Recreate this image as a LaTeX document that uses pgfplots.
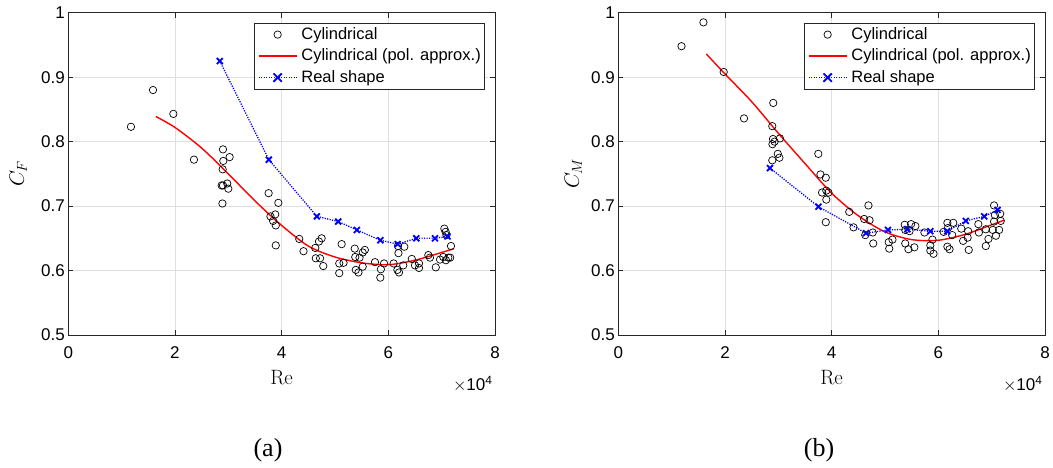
\documentclass[border=0pt]{standalone}
\usepackage[no-math]{fontspec}
\setmainfont{Liberation Sans}
\newfontfamily\timesfont{Liberation Serif}
\usepackage{pgfplots}
\pgfplotsset{compat=1.18}
\definecolor{gridc}{RGB}{223,223,223}
\definecolor{axc}{RGB}{38,38,38}

% Re values in units of 1e4
\pgfplotstableread{
re     cf
1.175  0.823
1.588  0.880
1.970  0.843
2.356  0.772
2.900  0.788
2.906  0.770
3.025  0.776
2.894  0.757
2.875  0.732
2.900  0.732
2.980  0.735
3.000  0.727
2.890  0.704
3.756  0.720
3.938  0.705
3.790  0.684
3.880  0.687
3.840  0.677
3.890  0.670
3.890  0.639
4.330  0.649
4.410  0.630
4.630  0.635
4.700  0.645
4.750  0.650
4.640  0.619
4.720  0.619
4.780  0.607
5.080  0.611
5.160  0.612
5.125  0.641
5.080  0.596
5.370  0.634
5.380  0.621
5.460  0.620
5.520  0.628
5.560  0.632
5.390  0.601
5.440  0.597
5.520  0.606
5.750  0.613
5.860  0.602
5.850  0.589
5.920  0.611
6.100  0.611
6.190  0.627
6.180  0.638
6.300  0.637
6.170  0.601
6.200  0.597
6.280  0.608
6.440  0.618
6.500  0.608
6.575  0.611
6.575  0.604
6.750  0.624
6.780  0.620
6.890  0.605
6.970  0.617
7.030  0.621
7.050  0.665
7.075  0.660
7.090  0.655
7.080  0.616
7.125  0.620
7.175  0.638
7.160  0.620
}\cfcyl

\pgfplotstableread{
re     cf
1.64   0.839
2.00   0.822
2.50   0.790
3.00   0.750
3.50   0.708
4.00   0.670
4.50   0.638
5.00   0.621
5.50   0.612
6.00   0.609
6.50   0.616
7.00   0.628
7.23   0.634
}\cfpoly

\pgfplotstableread{
re     cf
2.840  0.925
3.760  0.772
4.660  0.684
5.060  0.676
5.410  0.663
5.850  0.647
6.175  0.641
6.525  0.650
6.875  0.650
7.110  0.653
}\cfreal

\pgfplotstableread{
re     cm
1.185  0.948
1.596  0.985
1.976  0.908
2.357  0.836
2.905  0.860
2.887  0.824
2.900  0.804
2.890  0.796
3.030  0.805
2.930  0.800
2.990  0.781
3.020  0.775
2.887  0.771
3.750  0.781
3.790  0.749
3.890  0.744
3.820  0.721
3.900  0.724
3.940  0.721
3.900  0.710
3.890  0.675
4.330  0.691
4.410  0.667
4.610  0.680
4.690  0.701
4.710  0.678
4.630  0.655
4.770  0.659
4.780  0.642
5.070  0.644
5.140  0.648
5.080  0.634
5.370  0.671
5.380  0.663
5.490  0.672
5.570  0.669
5.460  0.661
5.380  0.642
5.440  0.633
5.550  0.636
5.740  0.659
5.850  0.639
5.850  0.631
5.910  0.626
5.890  0.648
6.100  0.660
6.170  0.674
6.280  0.674
6.180  0.666
6.170  0.637
6.210  0.633
6.260  0.655
6.430  0.665
6.465  0.646
6.550  0.651
6.560  0.661
6.570  0.632
6.750  0.672
6.760  0.659
6.890  0.664
6.940  0.649
6.890  0.638
7.045  0.701
7.060  0.686
7.045  0.676
7.020  0.663
7.080  0.654
7.140  0.663
7.160  0.688
7.170  0.677
}\cmcyl

\pgfplotstableread{
re     cm
1.65   0.936
2.00   0.905
2.50   0.862
3.00   0.813
3.50   0.766
4.00   0.720
4.50   0.685
5.00   0.660
5.50   0.648
6.00   0.647
6.50   0.656
7.00   0.671
7.23   0.678
}\cmpoly

\pgfplotstableread{
re     cm
2.843  0.759
3.753  0.699
4.645  0.658
5.056  0.663
5.420  0.664
5.850  0.661
6.166  0.661
6.515  0.677
6.860  0.684
7.110  0.694
}\cmreal

\pgfplotsset{
  matlab/.style={
    scale only axis,
    width=426.7pt, height=322.3pt,
    xmin=0, xmax=8, ymin=0.5, ymax=1,
    xtick={0,2,4,6,8},
    ytick={0.5,0.6,0.7,0.8,0.9,1},
    grid=major,
    grid style={gridc, line width=0.6pt},
    axis line style={axc, line width=0.7pt},
    tick style={axc, line width=0.7pt},
    major tick length=5pt,
    tick align=inside,
    ticklabel style={font=\fontsize{17}{20}\selectfont},
    xticklabel style={yshift=-8pt},
    /pgf/number format/assume math mode=true,
    every axis x label/.style={at={(axis description cs:0.5,0)}, anchor=base, yshift=-50pt,
      font=\fontsize{21}{23}\selectfont},
    every axis y label/.style={at={(axis description cs:0,0.5)}, rotate=90, anchor=center,
      font=\fontsize{21}{23}\selectfont},
    xlabel={$\mathrm{Re}$},
    legend cell align=left,
    legend style={at={(0.977,0.969)}, anchor=north east, draw=axc, line width=0.8pt,
      font=\fontsize{16.5}{19}\selectfont, inner xsep=4pt, inner ysep=3pt,
      row sep=4.5pt, column sep=4pt,
      nodes={inner sep=0pt, text height=13pt, text depth=4pt}},
    clip=false,
  },
  cyl/.style={only marks, mark=o, mark size=3.7pt, black, line width=0.7pt},
  poly/.style={no marks, red, line width=1.4pt, smooth},
  real/.style={blue, line width=1.3pt, dash pattern=on 1.2pt off 1.3pt, mark=x, mark size=4.2pt,
    mark options={solid, line width=1.8pt}},
  leg cyl/.style={legend image code/.code={
    \draw[black, line width=0.7pt] (19pt,0pt) circle[radius=3.7pt];}},
  leg poly/.style={legend image code/.code={
    \draw[red, line width=1.4pt] (0pt,0pt) -- (38pt,0pt);}},
  leg real/.style={legend image code/.code={
    \draw[blue, line width=1.3pt, dash pattern=on 1.2pt off 1.3pt] (0pt,0pt) -- (38pt,0pt);
    \draw[blue, line width=1.8pt] (14.8pt,-4.2pt) -- (23.2pt,4.2pt) (14.8pt,4.2pt) -- (23.2pt,-4.2pt);}},
}

\begin{document}
\begin{tikzpicture}[x=1pt,y=1pt]
\useasboundingbox (0,0) rectangle (1053,468);

\begin{axis}[matlab, at={(68.3pt,133pt)}, anchor=south west, ylabel={$C_F$},
  ylabel style={yshift=50pt}]
\addlegendimage{leg cyl}
\addlegendimage{leg poly}
\addlegendimage{leg real}
\addplot[cyl, forget plot] table[x=re,y=cf] {\cfcyl};
\addplot[poly, forget plot] table[x=re,y=cf] {\cfpoly};
\addplot[real, forget plot] table[x=re,y=cf] {\cfreal};
\legend{Cylindrical, Cylindrical (pol. approx.), Real shape}
\end{axis}

\begin{axis}[matlab, at={(618.3pt,133pt)}, anchor=south west, ylabel={$C_M$},
  ylabel style={yshift=45pt}]
\addlegendimage{leg cyl}
\addlegendimage{leg poly}
\addlegendimage{leg real}
\addplot[cyl, forget plot] table[x=re,y=cm] {\cmcyl};
\addplot[poly, forget plot] table[x=re,y=cm] {\cmpoly};
\addplot[real, forget plot] table[x=re,y=cm] {\cmreal};
\legend{Cylindrical, Cylindrical (pol. approx.), Real shape}
\end{axis}

\node[anchor=base east, font=\fontsize{17}{20}\selectfont] at (496,77) {$\times$10\textsuperscript{4}};
\node[anchor=base east, font=\fontsize{17}{20}\selectfont] at (1046,77) {$\times$10\textsuperscript{4}};
\node[font=\timesfont\fontsize{26}{28}\selectfont] at (268,18) {(a)};
\node[font=\timesfont\fontsize{26}{28}\selectfont] at (819,18) {(b)};
\end{tikzpicture}
\end{document}
